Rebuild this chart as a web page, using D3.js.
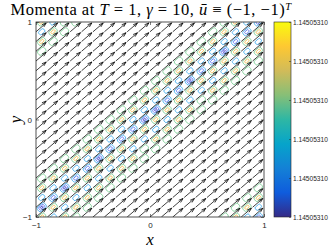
<!DOCTYPE html>
<html lang="en">
<head>
	<meta charset="UTF-8">
	<title>Momenta</title>
	<script src="https://d3js.org/d3.v7.min.js"></script>
	<style>
		body{ margin:0; background:#fff; overflow:hidden; }
		svg{ display:block; }
		.tick-label{ font-family: "Liberation Sans", Arial, sans-serif; font-size:8px; fill:#262626; }
		.latex{ font-family: "Liberation Serif", "DejaVu Serif", serif; fill:#000; }
	</style>
</head>
<body>
	<div id="chart"></div>
	<script>
		// quiver grid (21 x 21) and the constant field (1,1)
		const gridX = [-1,-0.9,-0.8,-0.7,-0.6,-0.5,-0.4,-0.3,-0.2,-0.1,0,0.1,0.2,0.3,0.4,0.5,0.6,0.7,0.8,0.9,1];
		const gridY = [-1,-0.9,-0.8,-0.7,-0.6,-0.5,-0.4,-0.3,-0.2,-0.1,0,0.1,0.2,0.3,0.4,0.5,0.6,0.7,0.8,0.9,1];
		const fieldU = [1];
		const fieldV = [1];
		const axisTicks = [-1, 0, 1];
		// contour blobs, top row = y 1, columns sit between quiver columns
		// g green, y yellow, c cyan, b blue, B deep blue
		const blobRows = [
			"ycgg............gycb",
			"cyg............gycby",
			"yg............gycbyc",
			"g............gycBycy",
			"............gycbycyg",
			"...........gycbycyg.",
			"..........gycBycyg..",
			".........gycbycyg...",
			"........gycbycgg....",
			".......gycBycyg.....",
			"......gycBycyg......",
			".....gycbycyg.......",
			"....gycbycyg........",
			"...gycbycgg.........",
			"..gycBycyg..........",
			".gycbycyg...........",
			"gycbycyg............",
			"ycBycyg............g",
			"cbycyg............gy",
			"Bycyg............gyc",
			"ycyg............gycb"
		];
		const cbTicks = [0, 0.2, 0.4, 0.6, 0.8, 1];
		const cbLabel = "1.14505310";
		const parula = ["#352a87","#0f5cdd","#1481d6","#06a4ca","#2eb7a4","#87bf77","#d1bb59","#fec832","#f9fb0e"];

		const width = 332, height = 249;
		const pLeft = 36, pRight = 264, pTop = 22, pBottom = 217;

		const svg = d3.select('#chart').append('svg')
			.attr('width', width).attr('height', height);

		const x = d3.scaleLinear().domain([-1, 1]).range([pLeft, pRight]);
		const y = d3.scaleLinear().domain([-1, 1]).range([pBottom, pTop]);

		svg.append('clipPath').attr('id', 'plotclip')
			.append('rect').attr('x', pLeft).attr('y', pTop)
			.attr('width', pRight - pLeft).attr('height', pBottom - pTop);

		const plot = svg.append('g').attr('clip-path', 'url(#plotclip)');

		// contour blobs
		const ringStyle = {
			g: [["#7ccf94", 8.5, 5.2]],
			y: [["#7ccf94", 8.5, 5.2], ["#f2bc4e", 4.6, 2.4]],
			c: [["#40abec", 6.5, 4]],
			b: [["#40abec", 8.5, 5.2], ["#5470f0", 4.6, 2.6]],
			B: [["#40abec", 9.5, 5.8], ["#5470f0", 6.2, 3.6], ["#3b3bc4", 2.8, 1.4]]
		};
		const blobs = [];
		blobRows.forEach((row, r) => {
			row.split('').forEach((ch, c) => {
				if (ch === '.') return;
				blobs.push({ x: (gridX[c] + gridX[c + 1]) / 2, y: gridY[20 - r], k: ch });
			});
		});
		const angle = -Math.atan((y(0) - y(0.1)) / (x(0.1) - x(0))) * 180 / Math.PI;
		const blobG = plot.append('g').selectAll('g').data(blobs).enter().append('g')
			.attr('transform', d => `translate(${x(d.x)},${y(d.y)}) rotate(${angle})`);
		blobG.each(function(d) {
			ringStyle[d.k].forEach(([col, w, h]) => {
				d3.select(this).append('rect')
					.attr('x', -w / 2).attr('y', -h / 2)
					.attr('width', w).attr('height', h)
					.attr('rx', h / 3)
					.attr('fill', 'none').attr('stroke', col).attr('stroke-width', 0.8);
			});
		});

		// quiver, MATLAB style autoscale 0.9 and head 0.33
		const arrows = [];
		gridX.forEach(gx => gridY.forEach(gy => arrows.push({ x: gx, y: gy, u: fieldU[0] * 0.09, v: fieldV[0] * 0.09 })));
		const arrowPath = d => {
			const x0 = x(d.x), y0 = y(d.y);
			const x1 = x(d.x + d.u), y1 = y(d.y + d.v);
			const du = x1 - x0, dv = y1 - y0;
			const a = 0.33, b = 0.33;
			const hx1 = x1 - a * (du + b * dv), hy1 = y1 - a * (dv - b * du);
			const hx2 = x1 - a * (du - b * dv), hy2 = y1 - a * (dv + b * du);
			return `M${x0},${y0}L${x1},${y1}M${hx1},${hy1}L${x1},${y1}L${hx2},${hy2}`;
		};
		plot.append('g').selectAll('path').data(arrows).enter().append('path')
			.attr('d', arrowPath)
			.attr('fill', 'none').attr('stroke', '#000').attr('stroke-width', 0.75);

		// axes box
		svg.append('rect').attr('x', pLeft).attr('y', pTop)
			.attr('width', pRight - pLeft).attr('height', pBottom - pTop)
			.attr('fill', 'none').attr('stroke', '#262626').attr('stroke-width', 0.8);

		const xAxis = svg.append('g').attr('transform', `translate(0,${pBottom})`)
			.call(d3.axisBottom(x).tickValues(axisTicks).tickSize(-3).tickPadding(5).tickFormat(d3.format('d')));
		const yAxis = svg.append('g').attr('transform', `translate(${pLeft},0)`)
			.call(d3.axisLeft(y).tickValues(axisTicks).tickSize(-3).tickPadding(4).tickFormat(d3.format('d')));
		[xAxis, yAxis].forEach(g => {
			g.select('.domain').remove();
			g.selectAll('line').attr('stroke', '#262626').attr('stroke-width', 0.6);
			g.selectAll('text').attr('class', 'tick-label').attr('font-size', null).attr('font-family', null);
		});
		xAxis.selectAll('.tick').each(function(d) {
			d3.select(this).append('line').attr('y1', pTop - pBottom).attr('y2', pTop - pBottom + 3)
				.attr('stroke', '#262626').attr('stroke-width', 0.6);
		});
		yAxis.selectAll('.tick').each(function(d) {
			d3.select(this).append('line').attr('x1', pRight - pLeft).attr('x2', pRight - pLeft - 3)
				.attr('stroke', '#262626').attr('stroke-width', 0.6);
		});

		// labels
		svg.append('text').attr('class', 'latex')
			.attr('x', (pLeft + pRight) / 2).attr('y', 245)
			.attr('text-anchor', 'middle').attr('font-size', 17).attr('font-style', 'italic')
			.text('x');
		svg.append('text').attr('class', 'latex')
			.attr('transform', `translate(21,${(pTop + pBottom) / 2}) rotate(-90)`)
			.attr('text-anchor', 'middle').attr('font-size', 17).attr('font-style', 'italic')
			.text('y');

		const title = svg.append('text').attr('class', 'latex')
			.attr('x', 151).attr('y', 15).attr('text-anchor', 'middle').attr('font-size', 16.5)
			.attr('letter-spacing', 0.5);
		title.append('tspan').text('Momenta at ');
		title.append('tspan').attr('font-style', 'italic').text('T');
		title.append('tspan').text(' = 1, ');
		title.append('tspan').attr('font-style', 'italic').text('γ');
		title.append('tspan').text(' = 10, ');
		title.append('tspan').attr('font-style', 'italic').text('ū');
		title.append('tspan').text(' ≡ (−1, −1)');
		title.append('tspan').attr('font-style', 'italic').attr('font-size', 10.5).attr('dy', -5).text('T');

		// colorbar
		const cbX = 274, cbW = 17;
		const cbScale = d3.scaleLinear().domain([0, 1]).range([pBottom, pTop]);
		const defs = svg.append('defs');
		const grad = defs.append('linearGradient').attr('id', 'parula')
			.attr('x1', 0).attr('y1', 1).attr('x2', 0).attr('y2', 0);
		grad.selectAll('stop').data(parula).enter().append('stop')
			.attr('offset', (d, i) => i / (parula.length - 1))
			.attr('stop-color', d => d);
		svg.append('rect').attr('x', cbX).attr('y', pTop)
			.attr('width', cbW).attr('height', pBottom - pTop)
			.attr('fill', 'url(#parula)').attr('stroke', '#262626').attr('stroke-width', 0.6);
		const cbAxis = svg.append('g').attr('transform', `translate(${cbX + cbW},0)`)
			.call(d3.axisRight(cbScale).tickValues(cbTicks).tickSize(-2).tickPadding(2).tickFormat(() => cbLabel));
		cbAxis.select('.domain').remove();
		cbAxis.selectAll('line').attr('stroke', '#262626').attr('stroke-width', 0.5);
		cbAxis.selectAll('text').attr('class', 'tick-label').attr('font-size', null).attr('font-family', null)
			.style('font-size', '6.6px');
	</script>
</body>
</html>
